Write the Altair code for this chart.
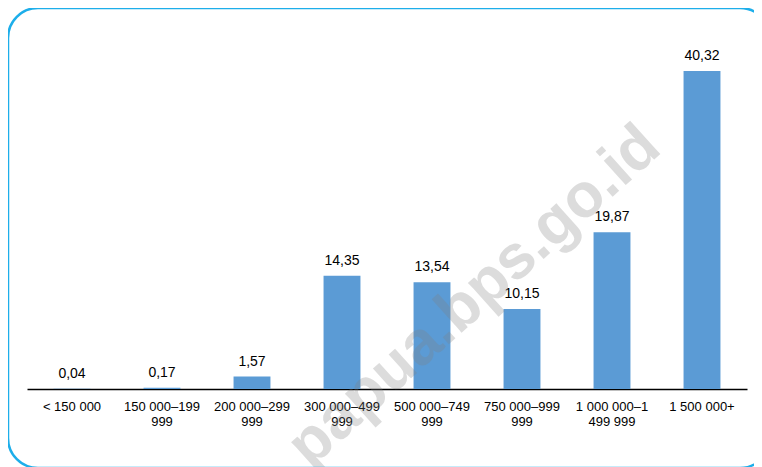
import altair as alt
import pandas as pd

categories = ["< 150 000", "150 000–199\n999", "200 000–299\n999", "300 000–499\n999",
              "500 000–749\n999", "750 000–999\n999", "1 000 000–1\n499 999", "1 500 000+"]
values = [0.04, 0.17, 1.57, 14.35, 13.54, 10.15, 19.87, 40.32]
watermark = ["papua.bps.go.id"]

df = pd.DataFrame({"cat": categories, "val": values})
wm = pd.DataFrame({"t": watermark})
frame = pd.DataFrame({"f": [0]})

W, H = 746, 460
BASE = 381

x = alt.X("cat:N", sort=categories,
          scale=alt.Scale(range=[19, 739], paddingInner=0.59, paddingOuter=0.295),
          axis=alt.Axis(title=None, labelAngle=0, labelExpr="split(datum.label, '\\n')",
                        offset=-(H - BASE), domainColor="black", domainWidth=1.6, ticks=False,
                        labelFontSize=13, labelFont="Liberation Sans", labelColor="black",
                        labelPadding=11, labelLineHeight=15, labelBaseline="top"))
y = alt.Y("val:Q", scale=alt.Scale(domain=[0, 45], range=[BASE, 26]), axis=None)

base = alt.Chart(df).encode(x=x, y=y)
bars = base.mark_bar(color="#5B9BD5")
labels = base.mark_text(dy=-11, baseline="alphabetic", fontSize=14, font="Liberation Sans",
                        color="black").encode(text=alt.Text("val:Q", format=".2f"))

wmark = alt.Chart(wm).mark_text(angle=318, fontSize=62, fontWeight="bold", font="Liberation Sans",
                                color="#808080", opacity=0.27, align="center",
                                baseline="middle").encode(
    text="t:N", x=alt.value(466), y=alt.value(288))

border = alt.Chart(frame).mark_rect(fill="transparent", stroke="#1DAEEA", strokeWidth=2.5,
                                    cornerRadius=30).encode(
    x=alt.value(0), x2=alt.value(762), y=alt.value(0), y2=alt.value(460))

chart = alt.layer(bars, labels, wmark, border).properties(
    width=W, height=H, padding=0, autosize=alt.AutoSizeParams(type="none")
).configure(
    locale={"number": {"decimal": ",", "thousands": " ", "grouping": [3], "currency": ["", ""]}}
).configure_view(stroke=None)

chart.save("out.html", embed_options={"renderer": "svg", "actions": False})
